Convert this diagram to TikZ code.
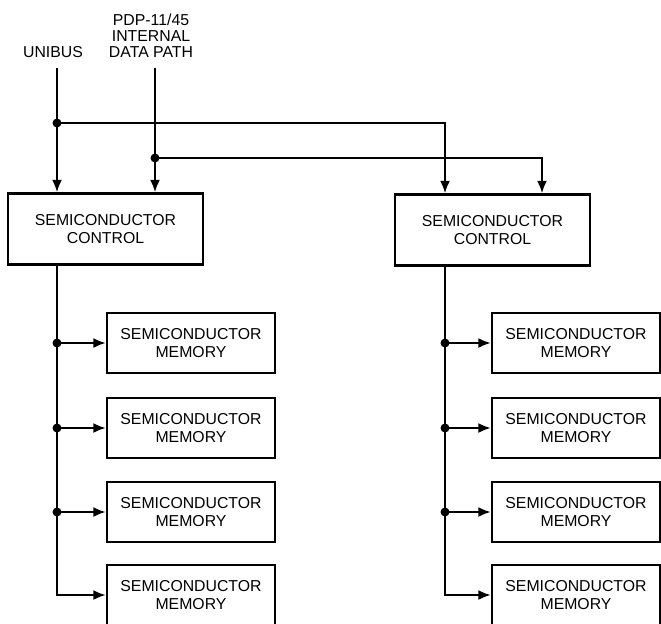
\documentclass[tikz,border=0pt]{standalone}
\usepackage{fontspec}
\setmainfont{Liberation Sans}
\usetikzlibrary{arrows.meta}

\tikzset{
  ctrlbox/.style={draw, line width=1.3pt, minimum width=3.9cm, minimum height=1.42cm, align=center, inner sep=0pt},
  membox/.style={draw, line width=1.3pt, minimum width=3.36cm, minimum height=1.2cm, align=center, inner sep=0pt},
  feed/.style={line width=1.3pt, -{Latex[length=2.5mm,width=2mm]}},
  buslabel/.style={font=\fontsize{9}{9.2}\selectfont},
}

\begin{document}
\begin{tikzpicture}[x=0.02cm, y=-0.02cm, every node/.style={font=\fontsize{9}{10}\selectfont}]
\useasboundingbox (0,0) rectangle (661,623);

% Bus labels
\node[buslabel] (unibus) at (53,52) {UNIBUS};
\node[buslabel, align=center] (dpath) at (151,36) {PDP-11/45\\INTERNAL\\DATA PATH};

% Controls
\node[ctrlbox] (ctrlL) at (105.5,229) {SEMICONDUCTOR\\CONTROL};
\node[ctrlbox] (ctrlR) at (492.5,230) {SEMICONDUCTOR\\CONTROL};

% Memories
\foreach \i/\y in {1/343,2/428,3/512,4/595} {
  \node[membox] (memL\i) at (191,\y) {SEMICONDUCTOR\\MEMORY};
  \node[membox] (memR\i) at (576,\y) {SEMICONDUCTOR\\MEMORY};
}

% Bus points
\coordinate (ubtop) at (57,68);
\coordinate (dptop) at (155,68);
\coordinate (tapA) at (57,123);
\coordinate (tapB) at (155,158);
\coordinate (ubR) at (445,0);
\coordinate (dpR) at (542,0);

% Inputs to the controls
\draw[feed] (ubtop) -- (ubtop |- ctrlL.north);
\draw[feed] (dptop) -- (dptop |- ctrlL.north);
\draw[feed] (tapA) -| (ubR |- ctrlR.north);
\draw[feed] (tapB) -| (dpR |- ctrlR.north);
\fill (tapA) circle (0.09cm);
\fill (tapB) circle (0.09cm);

% Memory buses
\coordinate (busL) at (57,0);
\coordinate (busR) at (445,0);
\draw[feed] (busL |- ctrlL.south) |- (memL4.west);
\draw[feed] (busR |- ctrlR.south) |- (memR4.west);
\foreach \i in {1,2,3} {
  \draw[feed] (busL |- memL\i) -- (memL\i.west);
  \fill (busL |- memL\i) circle (0.09cm);
  \draw[feed] (busR |- memR\i) -- (memR\i.west);
  \fill (busR |- memR\i) circle (0.09cm);
}

\end{tikzpicture}
\end{document}
